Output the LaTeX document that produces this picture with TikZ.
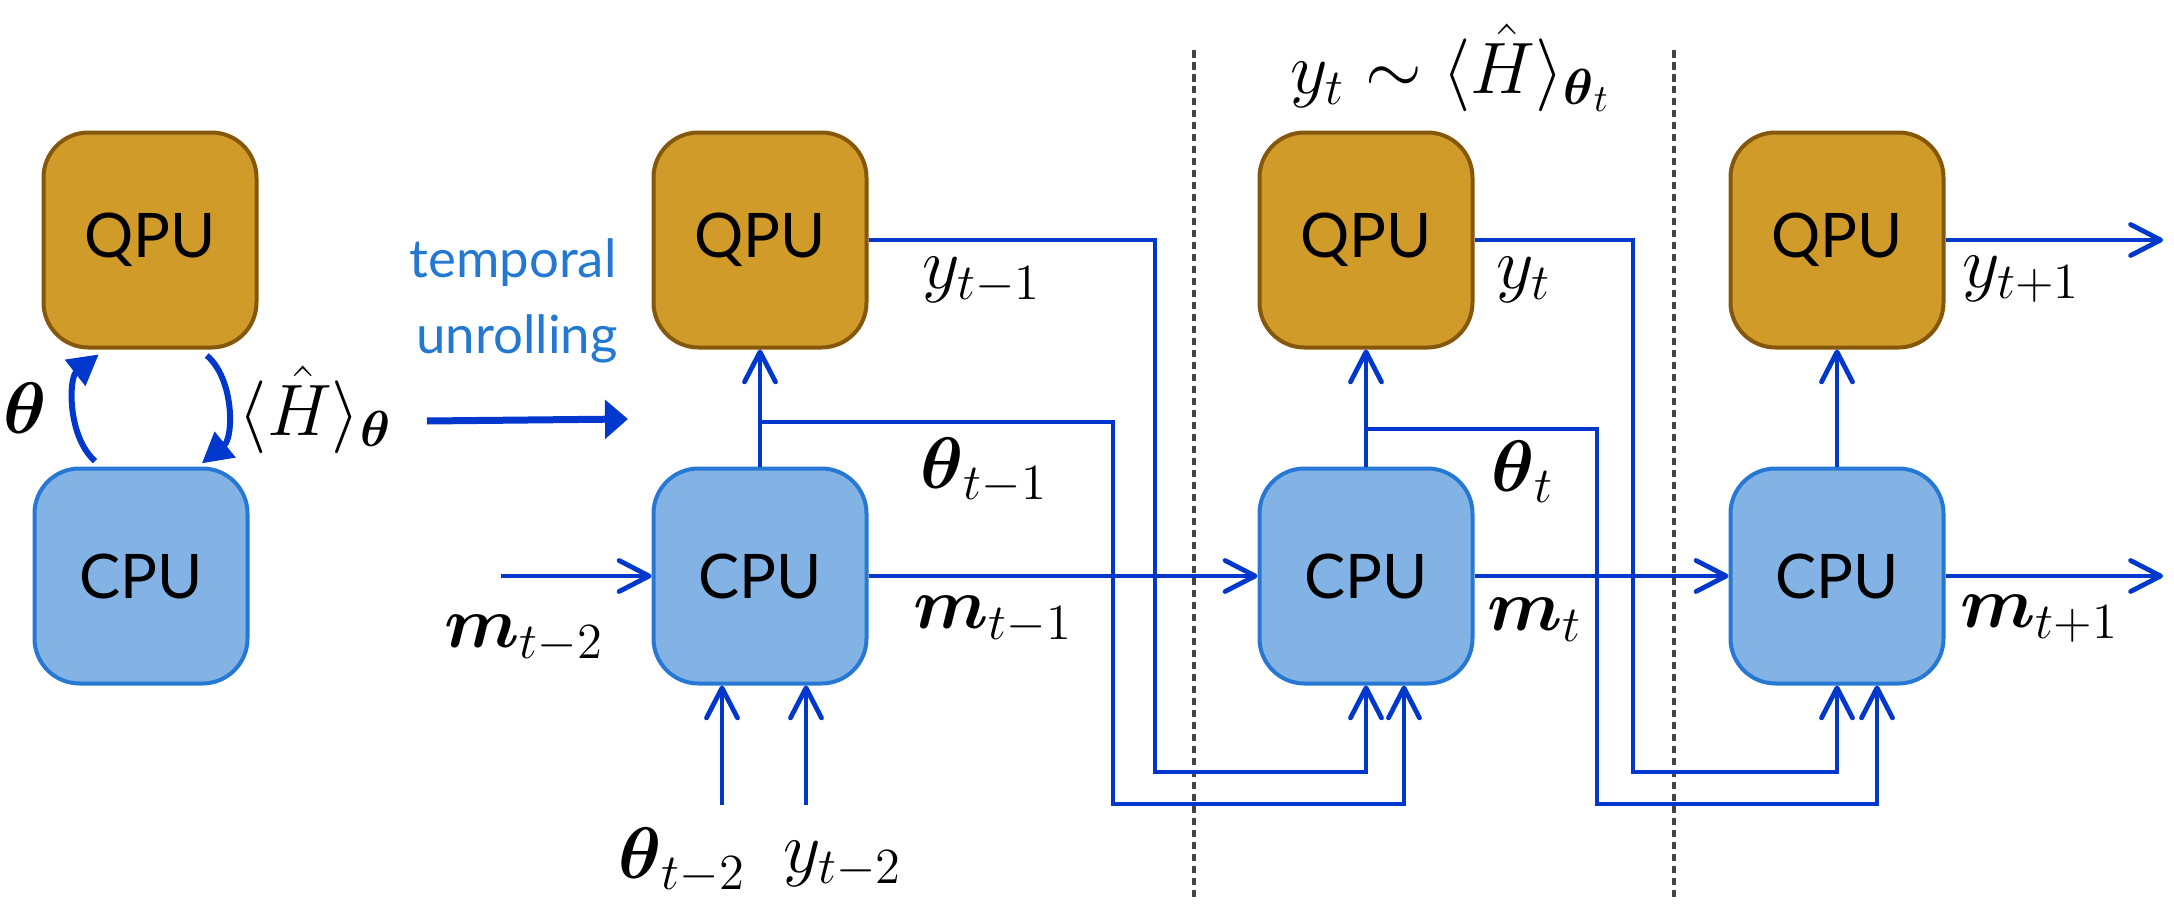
\documentclass[tikz,border=0pt]{standalone}
\usepackage{amsmath,amssymb}
\usepackage{fontspec}
\setmainfont{Lato}
\usetikzlibrary{arrows.meta,positioning,calc}

\definecolor{qpufill}{RGB}{208,155,41}
\definecolor{qpudraw}{RGB}{133,87,9}
\definecolor{cpufill}{RGB}{130,179,228}
\definecolor{cpudraw}{RGB}{38,120,212}
\definecolor{flowblue}{RGB}{0,56,206}
\definecolor{unrollblue}{RGB}{35,120,210}
\definecolor{sepgray}{RGB}{68,68,68}

\begin{document}
\begin{tikzpicture}[
  x=0.1mm, y=-0.1mm,
  >={Straight Barb[length=3mm,width=3.1mm,round]},
  unit/.style={draw, line width=0.4mm, rounded corners=4.5mm,
               minimum width=21.3mm, minimum height=21.5mm, inner sep=0pt,
               font=\fontsize{17.5}{20}\selectfont},
  qpu/.style={unit, fill=qpufill, draw=qpudraw},
  cpu/.style={unit, fill=cpufill, draw=cpudraw},
  sym/.style={font=\fontsize{22}{26}\selectfont, inner sep=0pt},
  e/.style={->, flowblue, line width=0.48mm},
  loope/.style={-{Triangle[length=3mm,width=3.2mm]}, flowblue, line width=0.6mm},
  sep/.style={sepgray, line width=0.4mm, dash pattern=on 0.75mm off 0.45mm}
]
\useasboundingbox (0,0) rectangle (2174,920);

% Folded picture on the left
\node[qpu] (qpu0) at (150,240) {QPU};
\node[cpu] (cpu0) at (141,576) {CPU};
\draw[loope, shorten <=0.8mm, shorten >=0.8mm]
  ([xshift=-4mm]cpu0.north) to[bend left=50] ([xshift=-4.5mm]qpu0.south);
\draw[loope, shorten <=0.9mm, shorten >=0.5mm]
  ([xshift=5mm]qpu0.south) to[bend left=50] ([xshift=5.7mm]cpu0.north);
\node[sym] (th0) at (25,408) {$\boldsymbol{\theta}$};
\node[sym, anchor=west] (ev0) at (238,410) {$\langle\hat{H}\rangle_{\boldsymbol{\theta}}$};

% Unrolling arrow
\node[font=\fontsize{15}{18}\selectfont, text=unrollblue, anchor=base, inner sep=0pt]
  (tmp1) at (513,277) {temporal};
\node[font=\fontsize{15}{18}\selectfont, text=unrollblue, anchor=base, inner sep=0pt]
  (tmp2) at (517,353) {unrolling};
\coordinate (unrollA) at (427,421);
\coordinate (unrollB) at (628,419);
\draw[-{Triangle[length=2.3mm,width=3.8mm]}, line width=0.7mm, flowblue]
  (unrollA) -- (unrollB);

% Time slices are split by dashed lines
\draw[sep] (1194,50) -- (1194,901);
\draw[sep] (1674,50) -- (1674,901);

% Unrolled units
\node[qpu] (qpu1) at (760,240)  {QPU};
\node[cpu] (cpu1) at (760,576)  {CPU};
\node[qpu] (qpu2) at (1366,240) {QPU};
\node[cpu] (cpu2) at (1366,576) {CPU};
\node[qpu] (qpu3) at (1837,240) {QPU};
\node[cpu] (cpu3) at (1837,576) {CPU};

\draw[e] (cpu1.north) -- (qpu1.south);
\draw[e] (cpu2.north) -- (qpu2.south);
\draw[e] (cpu3.north) -- (qpu3.south);

% Memory chain
\coordinate (min)  at (501,576);
\coordinate (mout) at (2163,576);
\draw[e] (min)       -- (cpu1.west);
\draw[e] (cpu1.east) -- (cpu2.west);
\draw[e] (cpu2.east) -- (cpu3.west);
\draw[e] (cpu3.east) -- (mout);

% Inputs of the first CPU
\coordinate (thin1) at (722,805);
\coordinate (yin1)  at (806,805);
\draw[e] (thin1) -- (thin1 |- cpu1.south);
\draw[e] (yin1)  -- (yin1 |- cpu1.south);

% Measurement outcomes fed to the next CPU
\coordinate (ybend1) at (1155,772);
\coordinate (ybend2) at (1633,772);
\coordinate (yout)   at (2163,240);
\draw[e] (qpu1.east) -| (ybend1) -| (cpu2.south);
\draw[e] (qpu2.east) -| (ybend2) -| (cpu3.south);
\draw[e] (qpu3.east) -- (yout);

% Parameters fed to the next CPU
\coordinate (tb1)    at (760,422);
\coordinate (tbend1) at (1113,804);
\coordinate (tb2)    at (1366,429);
\coordinate (tbend2) at (1597,804);
\draw[e] (tb1) -| (tbend1) -| ([xshift=3.8mm]cpu2.south);
\draw[e] (tb2) -| (tbend2) -| ([xshift=4mm]cpu3.south);

% Labels
\node[sym, anchor=west] (ytm1)  at (922,280)  {$y_{t-1}$};
\node[sym, anchor=west] (thtm1) at (920,471)  {$\boldsymbol{\theta}_{t-1}$};
\node[sym, anchor=west] (mtm1)  at (913,620)  {$\boldsymbol{m}_{t-1}$};
\node[sym, anchor=west] (yt)    at (1496,280) {$y_t$};
\node[sym, anchor=west] (tht)   at (1491,472) {$\boldsymbol{\theta}_t$};
\node[sym, anchor=west] (mt)    at (1487,620) {$\boldsymbol{m}_t$};
\node[sym, anchor=west] (ytp1)  at (1962,279) {$y_{t+1}$};
\node[sym, anchor=west] (mtp1)  at (1960,619) {$\boldsymbol{m}_{t+1}$};
\node[sym, anchor=west] (mtm2)  at (444,639)  {$\boldsymbol{m}_{t-2}$};
\node[sym, anchor=west] (thtm2) at (618,861)  {$\boldsymbol{\theta}_{t-2}$};
\node[sym, anchor=west] (ytm2)  at (783,864)  {$y_{t-2}$};
\node[sym] (sample) at (1451,68) {$y_t\sim\langle\hat{H}\rangle_{\boldsymbol{\theta}_t}$};

\end{tikzpicture}
\end{document}
